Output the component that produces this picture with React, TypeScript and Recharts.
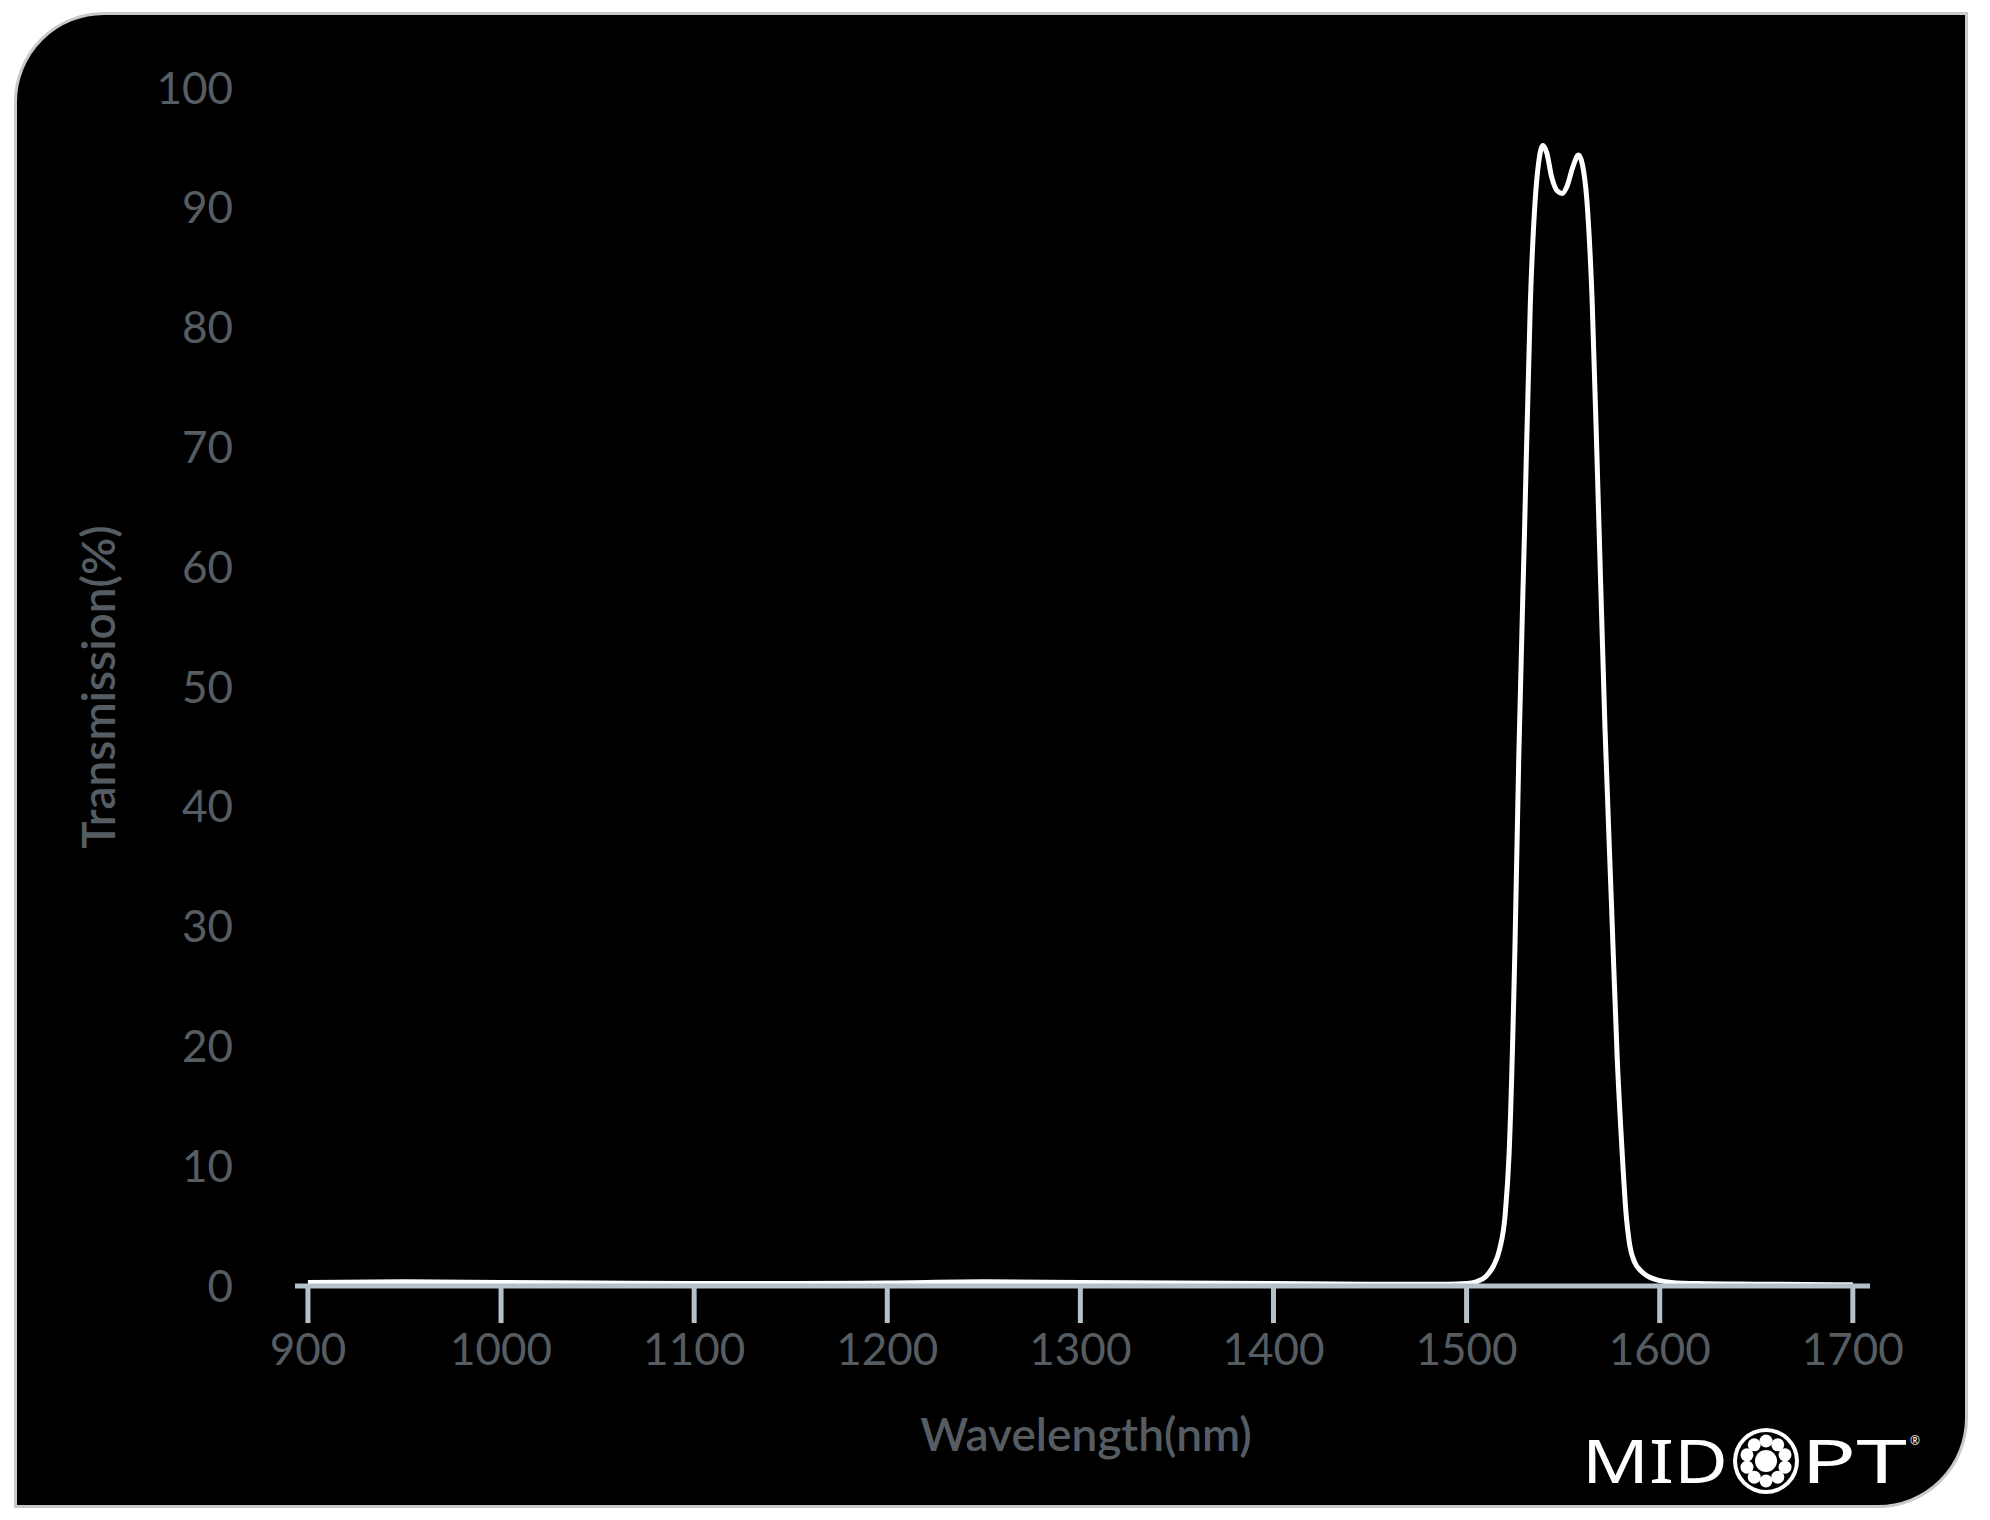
import React from 'react';
import { LineChart, Line, XAxis, YAxis, Label } from 'recharts';

const wavelengths = [900, 950, 1000, 1050, 1100, 1150, 1200, 1250, 1300, 1350, 1400, 1450, 1490, 1500, 1505, 1510, 1514, 1517, 1520, 1522, 1525, 1527, 1530, 1533, 1535.5, 1537.5, 1539.5, 1541.5, 1544, 1547, 1549.5, 1552, 1555, 1558, 1560, 1562.3, 1565, 1568, 1571.7, 1575, 1578, 1580.5, 1582.5, 1584.5, 1587, 1590, 1594, 1600, 1606, 1620, 1650, 1700];
const transmission = [0.3, 0.35, 0.3, 0.25, 0.2, 0.2, 0.25, 0.35, 0.3, 0.25, 0.2, 0.15, 0.15, 0.2, 0.35, 0.8, 1.7, 3.0, 6.0, 11, 28, 44, 63, 82, 90.6, 94, 95.2, 94.6, 92.6, 91.4, 91.2, 91.8, 93.4, 94.4, 93.6, 90.6, 82.3, 66.5, 46.4, 32, 19, 11.3, 6.2, 3.4, 2.0, 1.3, 0.8, 0.45, 0.3, 0.2, 0.15, 0.1];
const xTicks = [900, 1000, 1100, 1200, 1300, 1400, 1500, 1600, 1700];
const yTicks = [0, 10, 20, 30, 40, 50, 60, 70, 80, 90, 100];
const xTitle = 'Wavelength(nm)';
const yTitle = 'Transmission(%)';

const data = wavelengths.map((w, i) => ({ w, t: transmission[i] }));

const FONT = 'Lato, "Open Sans", "DejaVu Sans", sans-serif';
const AXIS = '#b3c1ca';
const TEXT = '#565d62';
const LOGO_FONT = '"Noto Sans", Lato, sans-serif';

function Logo() {
  const dots = Array.from({ length: 10 }, (_, i) => i);
  const cx = 1766;
  const cy = 1461;
  return (
    <svg width={1990} height={1520} style={{ position: 'absolute', left: 0, top: 0, pointerEvents: 'none' }}>
      <text x={1582} y={1483} fill="#ffffff" fontFamily={LOGO_FONT} fontWeight={400} fontSize={60} textLength={146} lengthAdjust="spacingAndGlyphs">MID</text>
      <g>
        <circle cx={cx} cy={cy} r={33} fill="#ffffff" />
        <circle cx={cx} cy={cy} r={29} fill="#000000" />
        {dots.map((i) => {
          const a = (i / 10) * Math.PI * 2 - Math.PI / 2;
          return <circle key={i} cx={cx + Math.cos(a) * 20} cy={cy + Math.sin(a) * 20} r={6.5} fill="#ffffff" />;
        })}
        <circle cx={cx} cy={cy} r={11} fill="#ffffff" />
      </g>
      <text x={1801} y={1483} fill="#ffffff" fontFamily={LOGO_FONT} fontWeight={400} fontSize={60} textLength={106} lengthAdjust="spacingAndGlyphs">PT</text>
      <text x={1910} y={1445} fill="#ffffff" fontFamily={LOGO_FONT} fontSize={12}>®</text>
    </svg>
  );
}

export default function App() {
  return (
    <div style={{ position: 'absolute', left: 0, top: 0, width: 1990, height: 1520, background: '#ffffff', overflow: 'hidden' }}>
      <div
        style={{
          position: 'absolute',
          left: 14,
          top: 12,
          width: 1954,
          height: 1496,
          background: '#000000',
          border: '3px solid #c9c9c9',
          borderRadius: '90px 0 90px 0',
          boxSizing: 'border-box',
        }}
      />
      <div style={{ position: 'absolute', left: 0, top: 0 }}>
        <LineChart width={1990} height={1520} data={data} margin={{ top: 88, right: 120, bottom: 0, left: 0 }}>
          <XAxis
            dataKey="w"
            type="number"
            domain={[893.3, 1708.9]}
            allowDataOverflow
            ticks={xTicks}
            interval={0}
            height={234}
            stroke={AXIS}
            axisLine={{ stroke: AXIS, strokeWidth: 5 }}
            tickLine={{ stroke: AXIS, strokeWidth: 5 }}
            tickSize={37}
            tickMargin={11}
            tick={{ fill: TEXT, fontSize: 44, fontFamily: FONT }}
          >
            <Label
              content={() => (
                <text x={1086} y={1433} textAnchor="middle" dominantBaseline="central" fill={TEXT} fontSize={46} fontFamily={FONT} fontWeight={600}>
                  {xTitle}
                </text>
              )}
            />
          </XAxis>
          <YAxis
            type="number"
            domain={[0, 100]}
            ticks={yTicks}
            interval={0}
            width={295}
            axisLine={false}
            tickLine={false}
            tickSize={0}
            tickMargin={62}
            tick={{ fill: TEXT, fontSize: 44, fontFamily: FONT }}
          >
            <Label
              content={() => (
                <text x={97} y={687} transform="rotate(-90 97 687)" textAnchor="middle" dominantBaseline="central" fill={TEXT} fontSize={46} fontFamily={FONT} fontWeight={600}>
                  {yTitle}
                </text>
              )}
            />
          </YAxis>
          <Line type="monotone" dataKey="t" stroke="#ffffff" strokeWidth={5} dot={false} isAnimationActive={false} />
        </LineChart>
      </div>
      <Logo />
    </div>
  );
}
